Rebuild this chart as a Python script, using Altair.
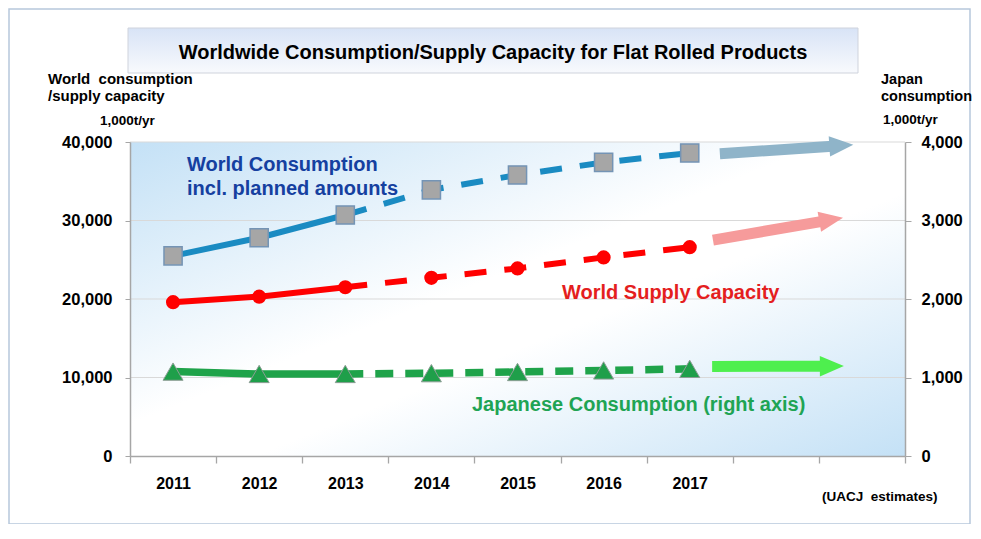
import math
import altair as alt
import pandas as pd

# ---------------- data ----------------
years = ["2011", "2012", "2013", "2014", "2015", "2016", "2017"]
axis_years = years + ["2018", "2019"]           # two empty slots for the trend arrows
world_consumption = [25500, 27800, 30700, 33900, 35800, 37400, 38600]   # left axis, 1,000t/yr
supply_capacity = [19600, 20300, 21500, 22700, 23900, 25300, 26600]     # left axis, 1,000t/yr
japan_consumption = [1075, 1045, 1045, 1055, 1070, 1090, 1110]          # right axis, 1,000t/yr
last_actual_index = 2   # 2011-2013 solid, 2013-2017 dashed (estimates)
left_ticks = [0, 10000, 20000, 30000, 40000]
right_ticks = [0, 1000, 2000, 3000, 4000]

# trend arrows beyond 2017: position in year slots (0 = left edge of 2011 slot, 9 = right edge)
arrow_names = ["world", "supply", "japan"]
arrow_colors = ["#8fb4c9", "#f69b9b", "#4eef4e"]
arrow_start_pos = [6.85, 6.77, 6.76]
arrow_end_pos = [8.40, 8.28, 8.29]
arrow_start_val = [38500, 27500, 1140 * 10]     # japan arrow given in right-axis units x10
arrow_end_val = [39650, 30350, 1145 * 10]

# ---------------- layout ----------------
W, H = 775, 314
FONT = "Liberation Sans"
LEFT_MAX, RIGHT_MAX = 40000, 4000
step = W / len(axis_years)
HEAD_LEN = 21

df = pd.DataFrame({
    "Year": years,
    "idx": list(range(len(years))),
    "World": world_consumption,
    "Supply": supply_capacity,
    "Japan": japan_consumption,
})
grid_df = pd.DataFrame({"v": left_ticks[1:]})

rows = []
for n, c, sp, ep, sv, ev in zip(arrow_names, arrow_colors, arrow_start_pos, arrow_end_pos,
                                arrow_start_val, arrow_end_val):
    dx = (ep - sp) * step
    dy = -(ev - sv) / LEFT_MAX * H
    length = math.hypot(dx, dy)
    frac = (length - HEAD_LEN) / length
    ang = math.degrees(math.atan2(dy, dx)) % 360
    rows.append({"name": n, "start": sp, "end": ep, "sv": sv, "ev": ev,
                 "shaft_end": sp + (ep - sp) * frac, "shaft_end_v": sv + (ev - sv) * frac,
                 "angle": ang})
arrows = pd.DataFrame(rows)
one = pd.DataFrame({"a": [0]})

x_scale = alt.Scale(type="band", domain=axis_years, paddingInner=0, paddingOuter=0)
yl_scale = alt.Scale(domain=[0, LEFT_MAX], nice=False, zero=True)
yr_scale = alt.Scale(domain=[0, RIGHT_MAX], nice=False, zero=True)

x_axis = alt.Axis(title=None, labelExpr="indexof(['2018','2019'], datum.value) >= 0 ? '' : datum.value",
                  tickBand="extent", tickSize=7, tickColor="#a6a6a6", tickWidth=1.3,
                  domainColor="#a6a6a6", domainWidth=1.5, labelFont=FONT, labelFontSize=16,
                  labelFontWeight="bold", labelColor="black", labelPadding=12, labelAngle=0,
                  grid=False, zindex=1)
left_axis = alt.Axis(title=None, orient="left", values=left_ticks, format=",d",
                     grid=False, tickSize=5, tickColor="#a6a6a6",
                     domainColor="#a6a6a6", domainWidth=1.5, labelFont=FONT, labelFontSize=16.5,
                     labelFontWeight="bold", labelColor="black", labelPadding=13, zindex=1)
right_axis = alt.Axis(title=None, orient="right", values=right_ticks, format=",d",
                      grid=False, tickSize=6, tickColor="#a6a6a6", domainColor="#a6a6a6",
                      domainWidth=1.5, labelFont=FONT, labelFontSize=16.5, labelFontWeight="bold",
                      labelColor="black", labelPadding=10, zindex=1)


def X(axis=None):
    return alt.X("Year:O", scale=x_scale, axis=axis, bandPosition=0.5)


def YL(field, axis=None):
    return alt.Y(f"{field}:Q", scale=yl_scale, axis=axis)


def YR(field, axis=None):
    return alt.Y(f"{field}:Q", scale=yr_scale, axis=axis)


base = alt.Chart(df)
solid = base.transform_filter(f"datum.idx <= {last_actual_index}")
dashed = base.transform_filter(f"datum.idx >= {last_actual_index}")

world_solid = solid.mark_line(color="#1a8bc2", strokeWidth=6).encode(x=X(x_axis), y=YL("World", left_axis))
world_dash = dashed.mark_line(color="#1a8bc2", strokeWidth=6, strokeDash=[22, 18]).encode(x=X(), y=YL("World"))
supply_solid = solid.mark_line(color="#ff0000", strokeWidth=6).encode(x=X(), y=YL("Supply"))
supply_dash = dashed.mark_line(color="#ff0000", strokeWidth=6, strokeDash=[22, 18]).encode(x=X(), y=YL("Supply"))
japan_solid = solid.mark_line(color="#1fa34a", strokeWidth=7.5).encode(x=X(), y=YR("Japan", right_axis))
japan_dash = dashed.mark_line(color="#1fa34a", strokeWidth=7.5, strokeDash=[18, 12]).encode(x=X(), y=YR("Japan"))

world_pts = base.mark_point(shape="square", filled=True, fill="#a6a6a6", stroke="#7494b5",
                            strokeWidth=1.5, size=330, opacity=1).encode(x=X(), y=YL("World"))
supply_pts = base.mark_circle(color="#ff0000", size=200, opacity=1).encode(x=X(), y=YL("Supply"))
japan_pts = base.mark_point(shape="triangle-up", filled=True, fill="#1f9f4a", stroke="#8d9d95",
                            strokeWidth=1, size=400, opacity=1).encode(x=X(), y=YR("Japan"))

pos_scale = alt.Scale(domain=[0, len(axis_years)], nice=False, zero=False)
col = alt.Color("name:N", scale=alt.Scale(domain=arrow_names, range=arrow_colors), legend=None)
arrow_shaft = alt.Chart(arrows).mark_rule(strokeWidth=11, strokeCap="butt").encode(
    x=alt.X("start:Q", scale=pos_scale, axis=None), x2="shaft_end:Q",
    y=alt.Y("sv:Q", scale=yl_scale, axis=None), y2="shaft_end_v:Q", color=col)
arrow_head = alt.Chart(arrows).mark_point(shape="M-2,-0.85L0,0L-2,0.85Z", filled=True, size=576,
                                          opacity=1, strokeWidth=0).encode(
    x=alt.X("end:Q", scale=pos_scale, axis=None), y=alt.Y("ev:Q", scale=yl_scale, axis=None),
    angle=alt.Angle("angle:Q", scale=None), color=col)


def txt(text, x, y, size, color="black", align="left"):
    return alt.Chart(one).mark_text(text=text, align=align, baseline="middle", font=FONT,
                                    fontSize=size, fontWeight="bold", color=color).encode(
        x=alt.value(x), y=alt.value(y))


frame = alt.Chart(one).mark_rect(fill="transparent", stroke="#b6c8dc", strokeWidth=1.5).encode(
    x=alt.value(-121), x2=alt.value(840), y=alt.value(-133), y2=alt.value(382))
title_grad = alt.LinearGradient(gradient="linear", x1=0, y1=0, x2=0, y2=1,
                                stops=[alt.GradientStop(color="#d8e3f6", offset=0),
                                       alt.GradientStop(color="#f8fafd", offset=1)])
title_box = alt.Chart(one).mark_rect(fill=title_grad, stroke="#cfd3dc", strokeWidth=1).encode(
    x=alt.value(-2), x2=alt.value(728), y=alt.value(-114), y2=alt.value(-69))

plot_grad = alt.LinearGradient(gradient="linear", x1=0, y1=0, x2=1, y2=1,
                               stops=[alt.GradientStop(color="#c4e1f6", offset=0),
                                      alt.GradientStop(color="#ffffff", offset=0.45),
                                      alt.GradientStop(color="#ffffff", offset=0.58),
                                      alt.GradientStop(color="#c4e1f6", offset=1)])
plot_bg = alt.Chart(one).mark_rect(fill=plot_grad).encode(
    x=alt.value(0), x2=alt.value(W), y=alt.value(0), y2=alt.value(H))
grid = alt.Chart(grid_df).mark_rule(color="#d9d9d9", strokeWidth=1).encode(
    y=alt.Y("v:Q", scale=yl_scale, axis=None), x=alt.value(0), x2=alt.value(W))

texts = [
    txt("Worldwide Consumption/Supply Capacity for Flat Rolled Products", 363, -89, 20, align="center"),
    txt("World\u00a0 consumption", -82, -63, 15),
    txt("/supply capacity", -82, -46, 15),
    txt("1,000t/yr", -30, -21, 13.5),
    txt("Japan", 751, -62, 14.5),
    txt("consumption", 751, -45, 14.5),
    txt("1,000t/yr", 753, -22, 13.5),
    txt("(UACJ\u00a0 estimates)", 692, 355, 13.5),
    txt("World Consumption", 57, 23, 20, color="#1540a0"),
    txt("incl. planned amounts", 57, 47, 20, color="#1540a0"),
    txt("World Supply Capacity", 432, 151, 20, color="#e41e1e"),
    txt("Japanese Consumption (right axis)", 342, 263, 20, color="#1fa454"),
]

chart = alt.layer(
    frame, title_box, plot_bg, grid, *texts,
    world_solid, world_dash, supply_solid, supply_dash, japan_solid, japan_dash,
    world_pts, supply_pts, japan_pts,
    arrow_shaft, arrow_head,
).resolve_scale(
    x="independent", y="independent", color="independent"
).properties(
    width=W, height=H,
    autosize=alt.AutoSizeParams(type="none"),
    padding={"left": 122, "top": 134, "right": 68, "bottom": 68},
).configure(background="white").configure_view(strokeWidth=0)

chart.save("out.html", embed_options={"renderer": "svg", "actions": False})
